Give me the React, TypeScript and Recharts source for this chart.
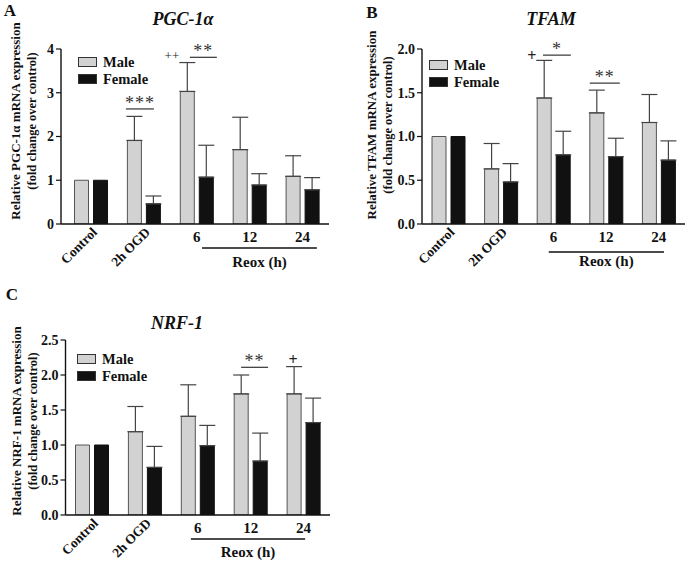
import React from 'react';
import { BarChart, Bar, XAxis, YAxis, ErrorBar, Legend, ReferenceLine } from 'recharts';

const FONT = '"Liberation Serif", "Times New Roman", Times, serif';

// ---------- data ----------
const categories = ['Control', '2h OGD', '6', '12', '24'];
const seriesNames = ['Male', 'Female'];

const pgcMale = [1.0, 1.91, 3.03, 1.7, 1.09];
const pgcMaleErr = [null, 0.55, 0.66, 0.74, 0.47];
const pgcFemale = [1.0, 0.46, 1.07, 0.89, 0.78];
const pgcFemaleErr = [null, 0.18, 0.73, 0.26, 0.28];

const tfamMale = [1.0, 0.63, 1.44, 1.27, 1.16];
const tfamMaleErr = [null, 0.29, 0.43, 0.26, 0.32];
const tfamFemale = [1.0, 0.48, 0.79, 0.77, 0.73];
const tfamFemaleErr = [null, 0.21, 0.27, 0.21, 0.22];

const nrfMale = [1.0, 1.19, 1.41, 1.73, 1.73];
const nrfMaleErr = [null, 0.36, 0.45, 0.27, 0.39];
const nrfFemale = [1.0, 0.68, 0.99, 0.77, 1.32];
const nrfFemaleErr = [null, 0.3, 0.29, 0.4, 0.35];

const pgcTicks = [0, 1, 2, 3, 4];
const tfamTicks = [0, 0.5, 1.0, 1.5, 2.0];
const nrfTicks = [0, 0.5, 1.0, 1.5, 2.0, 2.5];

// annotation positions: x in category-band units (band i spans [i, i+1]), y in data units
type Sig = { x1: number; x2: number; y: number; text: string };
type Mark = { x: number; y: number; text: string; size: number; weight: string };

const pgcSig: Sig[] = [
  { x1: 1.16, x2: 1.69, y: 2.63, text: '***' },
  { x1: 2.37, x2: 2.88, y: 3.81, text: '**' },
];
const pgcMarks: Mark[] = [{ x: 2.03, y: 3.82, text: '++', size: 13, weight: 'normal' }];

const tfamSig: Sig[] = [
  { x1: 2.3, x2: 2.83, y: 1.93, text: '*' },
  { x1: 3.19, x2: 3.76, y: 1.61, text: '**' },
];
const tfamMarks: Mark[] = [{ x: 2.09, y: 1.91, text: '+', size: 16, weight: 'bold' }];

const nrfSig: Sig[] = [{ x1: 3.32, x2: 3.83, y: 2.11, text: '**' }];
const nrfMarks: Mark[] = [{ x: 4.3, y: 2.2, text: '+', size: 16, weight: 'bold' }];

function buildRows(male: number[], maleErr: (number | null)[], female: number[], femaleErr: (number | null)[]) {
  return categories.map((c, i) => ({
    cat: c,
    male: male[i],
    female: female[i],
    maleErr: maleErr[i] == null ? null : [0, maleErr[i]],
    femaleErr: femaleErr[i] == null ? null : [0, femaleErr[i]],
  }));
}

const XTick = (props: any) => {
  const { x, y, payload } = props;
  const v = String(payload.value);
  const style = { fontFamily: FONT, fontWeight: 'bold' as const, fill: '#111' };
  if (v === 'Control' || v === '2h OGD') {
    const ax = x + 7;
    const ay = y + 9;
    return (
      <text x={ax} y={ay} transform={`rotate(-45 ${ax} ${ay})`} textAnchor="end" fontSize={13.5} {...style}>
        {v}
      </text>
    );
  }
  return (
    <text x={x} y={y + 18} textAnchor="middle" fontSize={15} {...style}>
      {v}
    </text>
  );
};

const makeReox = (start: number, end: number, padL: number, lineOff: number, textOff: number) => (props: any) => {
  const vb = props.viewBox || {};
  const band = (vb.width - padL) / 5;
  const x1 = vb.x + padL + start * band;
  const x2 = vb.x + padL + end * band;
  const ly = vb.y + lineOff;
  return (
    <g>
      <line x1={x1} x2={x2} y1={ly} y2={ly} stroke="#111" strokeWidth={1.3} />
      <text
        x={(x1 + x2) / 2}
        y={vb.y + textOff}
        textAnchor="middle"
        fontFamily={FONT}
        fontWeight="bold"
        fontSize={15}
        fill="#111"
      >
        Reox (h)
      </text>
    </g>
  );
};

// segment spans centers of first and last category: (u = 0.5) .. (u = 4.5)
const toPx = (props: any, u: number) => {
  const k = (props.x2 - props.x1) / (categories.length - 1);
  return props.x1 + (u - 0.5) * k;
};

const sigShape = (s: Sig) => (props: any) => {
  const a = toPx(props, s.x1);
  const b = toPx(props, s.x2);
  const y = props.y1;
  return (
    <g>
      <line x1={a} x2={b} y1={y} y2={y} stroke="#333" strokeWidth={1.2} />
      <text x={(a + b) / 2} y={y} textAnchor="middle" fontFamily={FONT} fontSize={18} fill="#333" letterSpacing={1}>
        {s.text}
      </text>
    </g>
  );
};

const markShape = (m: Mark) => (props: any) => {
  const x = toPx(props, m.x);
  const y = props.y1 + m.size * 0.27;
  return (
    <text x={x} y={y} textAnchor="middle" fontFamily={FONT} fontSize={m.size} fontWeight={m.weight} fill="#222">
      {m.text}
    </text>
  );
};

const renderLegend = (props: any) => {
  const payload = [...(props.payload || [])].sort(
    (a: any, b: any) => seriesNames.indexOf(a.value) - seriesNames.indexOf(b.value)
  );
  return (
    <div style={{ fontFamily: FONT, fontWeight: 'bold', fontSize: 14.5, color: '#111', lineHeight: '16.5px' }}>
      {payload.map((e: any) => (
        <div key={e.value} style={{ display: 'flex', alignItems: 'center', height: 16.5, whiteSpace: 'nowrap' }}>
          <svg width={19} height={10} style={{ marginRight: 6, display: 'block' }}>
            <rect x={0.5} y={0.5} width={18} height={9} fill={e.color} stroke="#333" strokeWidth={1} />
          </svg>
          <span>{e.value}</span>
        </div>
      ))}
    </div>
  );
};

type PanelProps = {
  data: any[];
  left: number;
  top: number;
  width: number;
  height: number;
  margin: { top: number; right: number; bottom: number; left: number };
  padL: number;
  domain: [number, number];
  ticks: number[];
  decimals: number;
  legendPos: { left: number; top: number };
  sig: Sig[];
  marks: Mark[];
  reox: [number, number];
  reoxOff: [number, number];
};

function Panel(p: PanelProps) {
  const tickStyle = { fontFamily: FONT, fontWeight: 'bold', fontSize: 14, fill: '#111' };
  const first = categories[0];
  const last = categories[categories.length - 1];
  return (
    <div style={{ position: 'absolute', left: p.left, top: p.top, width: p.width, height: p.height }}>
      <BarChart width={p.width} height={p.height} data={p.data} margin={p.margin} barSize={14} barGap={5}>
        <XAxis
          dataKey="cat"
          type="category"
          interval={0}
          tickLine={false}
          tickSize={0}
          tickMargin={0}
          height={40}
          padding={{ left: p.padL, right: 0 }}
          axisLine={{ stroke: '#111', strokeWidth: 1.4 }}
          tick={<XTick />}
          label={{ content: makeReox(p.reox[0], p.reox[1], p.padL, p.reoxOff[0], p.reoxOff[1]) } as any}
        />
        <YAxis
          width={30}
          domain={p.domain}
          ticks={p.ticks}
          interval={0}
          allowDataOverflow
          tickSize={5}
          tickMargin={2}
          axisLine={{ stroke: '#111', strokeWidth: 1.4 }}
          tickLine={{ stroke: '#111', strokeWidth: 1.2 }}
          tick={tickStyle as any}
          tickFormatter={(v: number) => v.toFixed(p.decimals)}
        />
        <Legend
          layout="vertical"
          align="center"
          verticalAlign="middle"
          wrapperStyle={{ position: 'absolute', left: p.legendPos.left, top: p.legendPos.top, width: 'auto', height: 'auto' }}
          content={renderLegend}
        />
        <Bar dataKey="male" name="Male" fill="#d2d2d2" stroke="#555" strokeWidth={1} isAnimationActive={false}>
          <ErrorBar dataKey="maleErr" direction="y" width={8} stroke="#444" strokeWidth={1.2} />
        </Bar>
        <Bar dataKey="female" name="Female" fill="#111" stroke="#111" strokeWidth={1} isAnimationActive={false}>
          <ErrorBar dataKey="femaleErr" direction="y" width={8} stroke="#444" strokeWidth={1.2} />
        </Bar>
        {p.sig.map((s, i) => (
          <ReferenceLine
            key={'s' + i}
            ifOverflow="visible"
            segment={[
              { x: first, y: s.y },
              { x: last, y: s.y },
            ]}
            shape={sigShape(s)}
          />
        ))}
        {p.marks.map((m, i) => (
          <ReferenceLine
            key={'m' + i}
            ifOverflow="visible"
            segment={[
              { x: first, y: m.y },
              { x: last, y: m.y },
            ]}
            shape={markShape(m)}
          />
        ))}
      </BarChart>
    </div>
  );
}

const pgcData = buildRows(pgcMale, pgcMaleErr, pgcFemale, pgcFemaleErr);
const tfamData = buildRows(tfamMale, tfamMaleErr, tfamFemale, tfamFemaleErr);
const nrfData = buildRows(nrfMale, nrfMaleErr, nrfFemale, nrfFemaleErr);

function YLabel({ x1, x2, y, l1, l2 }: { x1: number; x2: number; y: number; l1: string; l2: string }) {
  const s = { fontFamily: FONT, fontWeight: 'bold' as const, fill: '#111' };
  return (
    <g>
      <text x={x1} y={y} transform={`rotate(-90 ${x1} ${y})`} textAnchor="middle" dominantBaseline="central" fontSize={13} {...s}>
        {l1}
      </text>
      <text x={x2} y={y} transform={`rotate(-90 ${x2} ${y})`} textAnchor="middle" dominantBaseline="central" fontSize={12.5} {...s}>
        {l2}
      </text>
    </g>
  );
}

export default function App() {
  const letter = { fontFamily: FONT, fontWeight: 'bold' as const, fontSize: 17, fill: '#111' };
  const title = { fontFamily: FONT, fontWeight: 'bold' as const, fontStyle: 'italic' as const, fontSize: 18, fill: '#111' };
  return (
    <div style={{ position: 'absolute', left: 0, top: 0, width: 685, height: 562, background: '#fff', overflow: 'hidden' }}>
      <Panel
        data={pgcData}
        left={0}
        top={0}
        width={340}
        height={280}
        margin={{ top: 49, right: 11, bottom: 16, left: 31 }}
        padL={3.5}
        domain={[0, 4]}
        ticks={pgcTicks}
        decimals={0}
        legendPos={{ left: 78, top: 54 }}
        sig={pgcSig}
        marks={pgcMarks}
        reox={[2.6, 4.77]}
        reoxOff={[24, 43]}
      />
      <Panel
        data={tfamData}
        left={340}
        top={0}
        width={345}
        height={280}
        margin={{ top: 49, right: 0, bottom: 16, left: 52 }}
        padL={0}
        domain={[0, 2]}
        ticks={tfamTicks}
        decimals={1}
        legendPos={{ left: 89, top: 57 }}
        sig={tfamSig}
        marks={tfamMarks}
        reox={[2.41, 4.6]}
        reoxOff={[28, 42]}
      />
      <Panel
        data={nrfData}
        left={0}
        top={280}
        width={340}
        height={282}
        margin={{ top: 60, right: 10, bottom: 7, left: 35.5 }}
        padL={0}
        domain={[0, 2.5]}
        ticks={nrfTicks}
        decimals={1}
        legendPos={{ left: 77, top: 71 }}
        sig={nrfSig}
        marks={nrfMarks}
        reox={[2.37, 4.53]}
        reoxOff={[24, 42]}
      />
      <svg width={685} height={562} style={{ position: 'absolute', left: 0, top: 0, pointerEvents: 'none' }}>
        <text x={10} y={16} textAnchor="middle" {...letter}>A</text>
        <text x={372} y={18} textAnchor="middle" {...letter}>B</text>
        <text x={12} y={300} textAnchor="middle" {...letter}>C</text>
        <text x={183} y={25} textAnchor="middle" {...title}>PGC-1α</text>
        <text x={551} y={25} textAnchor="middle" {...title}>TFAM</text>
        <text x={177} y={329} textAnchor="middle" {...title}>NRF-1</text>
        <YLabel x1={15} x2={32} y={121} l1="Relative PGC-1α mRNA expression" l2="(fold change over control)" />
        <YLabel x1={371} x2={388} y={125} l1="Relative TFAM mRNA expression" l2="(fold change over control)" />
        <YLabel x1={16} x2={33} y={421} l1="Relative NRF-1 mRNA expression" l2="(fold change over control)" />
      </svg>
    </div>
  );
}
